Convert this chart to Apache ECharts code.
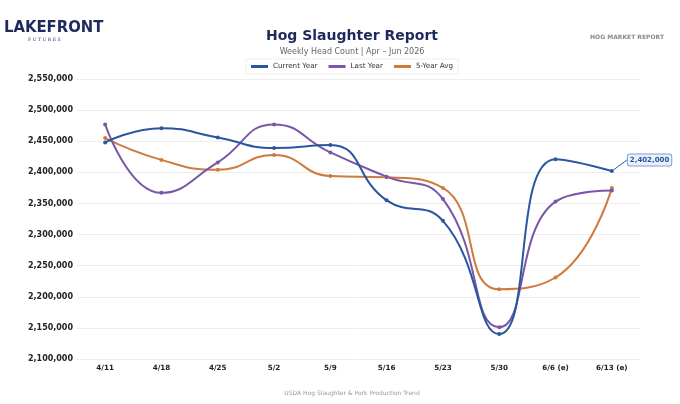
<!DOCTYPE html>
<html>
<head>
<meta charset="utf-8">
<script src="https://cdn.jsdelivr.net/npm/echarts@6/dist/echarts.min.js"></script>
<style>
  html, body { margin: 0; padding: 0; background: #fff; }
  #chart { width: 680px; height: 404px; }
</style>
</head>
<body>
<div id="chart"></div>
<script>
// weekly slaughter, head count
const weeks = ['4/11', '4/18', '4/25', '5/2', '5/9', '5/16', '5/23', '5/30', '6/6 (e)', '6/13 (e)'];
const currentYear = [2448000, 2471000, 2456000, 2439000, 2444000, 2355000, 2322000, 2140000, 2421000, 2402000];
const lastYear = [2477000, 2367000, 2416000, 2477000, 2432000, 2393000, 2357000, 2151000, 2353000, 2371000];
const fiveYearAvg = [2455000, 2420000, 2404000, 2428000, 2394000, 2392000, 2375000, 2212000, 2231000, 2375000];

const BLUE = '#2a56a0';
const PURPLE = '#7a56a8';
const ORANGE = '#cf7a3e';
const NAVY = '#1f2a5c';
const FONT = 'DejaVu Sans';
const MID = 347; // centre of the plot, less title padding

const chart = echarts.init(document.getElementById('chart'));

function lineSeries(name, data, color) {
    return {
        name: name,
        type: 'line',
        data: data,
        smooth: 0.5,
        symbol: 'circle',
        symbolSize: 4,
        lineStyle: { width: 2, color: color },
        itemStyle: { color: color },
        z: name === 'Current Year' ? 3 : 2
    };
}

// callout on the last current-year point
const cur = lineSeries('Current Year', currentYear.map((v, i) => {
    if (i !== currentYear.length - 1) return v;
    return {
        value: v,
        label: {
            show: true,
            position: 'right',
            distance: 0,
            formatter: p => p.value.toLocaleString('en-US'),
            color: BLUE,
            fontFamily: FONT,
            fontWeight: 'bold',
            fontSize: 7,
            backgroundColor: '#eaf1fb',
            borderColor: '#7f9fd0',
            borderWidth: 1,
            borderRadius: 2,
            padding: [2, 2]
        },
        labelLine: { show: true, lineStyle: { color: BLUE, width: 1 } }
    };
}), BLUE);
cur.labelLayout = function (params) {
    if (params.dataIndex === currentYear.length - 1) return { dx: 14, dy: -11 };
    return {};
};

chart.setOption({
    backgroundColor: '#fff',
    animation: false,
    textStyle: { fontFamily: FONT },
    title: [
        {
            text: 'Hog Slaughter Report',
            left: MID, top: 24, textAlign: 'center',
            textStyle: { fontSize: 14, fontWeight: 'bold', color: NAVY, fontFamily: FONT }
        },
        {
            text: 'Weekly Head Count | Apr – Jun 2026',
            left: MID, top: 43, textAlign: 'center',
            textStyle: { fontSize: 8, fontWeight: 'normal', color: '#666', fontFamily: FONT }
        },
        {
            text: 'HOG MARKET REPORT',
            right: 11, top: 29,
            textStyle: { fontSize: 6, fontWeight: 'bold', color: '#888', fontFamily: FONT }
        },
        {
            text: 'USDA Hog Slaughter & Pork Production Trend',
            left: MID, top: 385, textAlign: 'center',
            textStyle: { fontSize: 6, fontWeight: 'normal', color: '#999', fontFamily: FONT }
        }
    ],
    graphic: [
        {
            type: 'text', left: 4, top: 19,
            style: { text: 'LAKEFRONT', fill: NAVY, font: 'bold 16.5px "DejaVu Sans Condensed"' }
        },
        {
            type: 'text', left: 28, top: 37,
            style: { text: 'F U T U R E S', fill: NAVY, font: '4.6px "DejaVu Serif"' }
        }
    ],
    legend: {
        top: 59,
        left: 246,
        itemWidth: 17,
        itemHeight: 3,
        itemGap: 11,
        icon: 'rect',
        padding: [4, 5],
        borderColor: '#eee',
        borderWidth: 1,
        textStyle: { fontSize: 7.2, color: '#333', fontFamily: FONT },
        data: ['Current Year', 'Last Year', '5-Year Avg']
    },
    grid: { left: 77, right: 40, top: 79, bottom: 45 },
    xAxis: {
        type: 'category',
        data: weeks,
        boundaryGap: true,
        axisLine: { show: false },
        axisTick: { show: false },
        axisLabel: { color: '#222', fontWeight: 'bold', fontSize: 7.2, margin: 6, fontFamily: FONT }
    },
    yAxis: {
        type: 'value',
        min: 2100000,
        max: 2550000,
        interval: 50000,
        axisLine: { show: false },
        axisTick: { show: false },
        splitLine: { lineStyle: { color: '#eeeeee', width: 1 } },
        axisLabel: {
            color: '#222', fontWeight: 'bold', fontSize: 8, margin: 4, fontFamily: FONT,
            formatter: v => v.toLocaleString('en-US')
        }
    },
    series: [
        lineSeries('5-Year Avg', fiveYearAvg, ORANGE),
        lineSeries('Last Year', lastYear, PURPLE),
        cur
    ]
});
</script>
</body>
</html>
